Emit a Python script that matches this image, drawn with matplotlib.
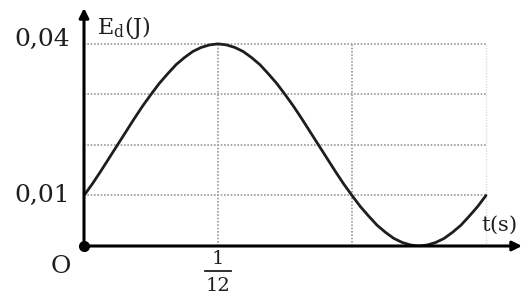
import numpy as np
import matplotlib

matplotlib.use("Agg")
import matplotlib.pyplot as plt
from matplotlib.transforms import offset_copy

# curve, t in steps of 1/192 s
t_steps = list(range(49))
energy = [0.0100, 0.0123, 0.0148, 0.0174, 0.0200, 0.0226, 0.0252, 0.0277, 0.0300,
          0.0322, 0.0341, 0.0359, 0.0373, 0.0385, 0.0393, 0.0398, 0.0400,
          0.0398, 0.0393, 0.0385, 0.0373, 0.0359, 0.0341, 0.0322, 0.0300,
          0.0277, 0.0252, 0.0226, 0.0200, 0.0174, 0.0148, 0.0123, 0.0100,
          0.0078, 0.0059, 0.0041, 0.0027, 0.0015, 0.0007, 0.0002, 0.0000,
          0.0002, 0.0007, 0.0015, 0.0027, 0.0041, 0.0059, 0.0078, 0.0100]
grid_t = [1 / 12, 2 / 12, 3 / 12]
grid_e = [0.01, 0.02, 0.03, 0.04]
ytick_vals = [0.04, 0.01]
ytick_labels = ["0,04", "0,01"]

t = np.array(t_steps) / 192

plt.rcParams["mathtext.fontset"] = "dejavuserif"
serif = "DejaVu Serif"
ink = "#1e1e1e"

fig = plt.figure(figsize=(5.28, 3.0), dpi=100)
ax = fig.add_axes([84 / 528, 54 / 300, 438 / 528, 238 / 300])
ax.set_xlim(0, 0.2724)
ax.set_ylim(0, 0.0471)
ax.axis("off")

grid_kw = dict(color="#9a9a9a", lw=1.2, ls=(0, (1, 1)), zorder=1)
for e in grid_e:
    ax.plot([0, grid_t[-1]], [e, e], **grid_kw)
for g in grid_t[:-1]:
    ax.plot([g, g], [0, grid_e[-1]], **grid_kw)
ax.plot([grid_t[-1]] * 2, [0, grid_e[-1]], color="#dddddd", lw=1.0, ls=(0, (1, 1)), zorder=1)

ax.plot(t, energy, color=ink, lw=2.0, solid_capstyle="round", zorder=3)

arrow_kw = dict(arrowstyle="-|>", color="k", lw=2.2, mutation_scale=14, shrinkA=0, shrinkB=0)
ax.annotate("", xy=(1, 0), xycoords="axes fraction", xytext=(0, 0), arrowprops=arrow_kw)
ax.annotate("", xy=(0, 1), xycoords="axes fraction", xytext=(0, 0), arrowprops=arrow_kw)
ax.plot([0], [0], "o", color="k", ms=7, clip_on=False, zorder=5)

for v, lab in zip(ytick_vals, ytick_labels):
    dy = 3 if v == 0.04 else 0
    ax.annotate(lab, xy=(0, v), xytext=(-10, dy), textcoords="offset points",
                ha="right", va="center", fontsize=18, family=serif, color=ink)
ax.annotate("O", xy=(0, 0), xytext=(-16.5, -15), textcoords="offset points",
            ha="center", va="center", fontsize=18, family=serif, color=ink)

# 1/12 written as a stacked fraction under the x axis
ax.annotate("1", xy=(1 / 12, 0), xytext=(0, -9), textcoords="offset points",
            ha="center", va="center", fontsize=14, family=serif, color=ink)
ax.annotate("12", xy=(1 / 12, 0), xytext=(0, -29), textcoords="offset points",
            ha="center", va="center", fontsize=14, family=serif, color=ink)
tr = offset_copy(ax.transData, fig=fig, x=0, y=-18, units="points")
ax.plot([1 / 12 - 0.0081, 1 / 12 + 0.0081], [0, 0], transform=tr, color=ink, lw=1.3, clip_on=False)

ax.annotate(r"$\mathrm{E_d(J)}$", xy=(0, 1), xycoords="axes fraction", xytext=(9.4, -13.7),
            textcoords="offset points", ha="left", va="center", fontsize=16, color=ink)
ax.annotate(r"$\mathrm{t(s)}$", xy=(1, 0), xycoords="axes fraction", xytext=(-29.5, 15),
            textcoords="offset points", ha="left", va="center", fontsize=15, color=ink)

fig.savefig("out.png", dpi=100)
